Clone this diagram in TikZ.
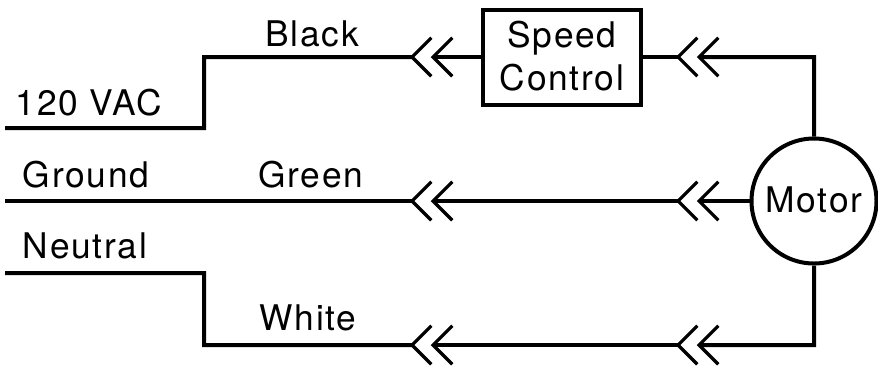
\documentclass[tikz,border=0pt]{standalone}
\usepackage{fontspec}
\setmainfont[LetterSpace=5]{TeX Gyre Heros}
\tikzset{
 wire/.style={line width=3pt,line cap=butt,line join=miter},
 lbl/.style={font=\fontsize{26.5pt}{30pt}\selectfont,inner sep=0pt,anchor=base},
 chev/.pic={\draw[wire,line width=2.4pt] (14.5,-14.5) -- (0,0) -- (14.5,14.5);},
}
\begin{document}
\begin{tikzpicture}[x=1pt,y=-1pt,scale=0.75]
\useasboundingbox (0,0) rectangle (878,365);
\node[draw,line width=3pt,minimum width=158pt*0.75,minimum height=95pt*0.75,inner sep=0pt] (sc) at (562,57) {};
\node[draw,circle,line width=3pt,minimum size=125pt*0.75,inner sep=0pt] (motor) at (814,201) {};
\node[lbl] (t1) at (562,47) {Speed};
\node[lbl] (t2) at (562,90) {Control};
\node[lbl] (t3) at (814,212) {Motor};
\node[lbl] (a) at (89,115) {120 VAC};
\node[lbl] (b) at (312,46) {Black};
\node[lbl] (c) at (86,187) {Ground};
\node[lbl] (d) at (311,187) {Green};
\node[lbl] (e) at (85,258) {Neutral};
\node[lbl] (f) at (308,330) {White};
\coordinate (l1) at (5,128);
\coordinate (l2) at (5,201);
\coordinate (l3) at (5,273);
\foreach \n/\xa/\xb/\y in {a/412/433/57,b/678/699/57,c/412/433/201,d/678/699/201,e/412/433/345,f/678/699/345}{
 \coordinate (\n1) at (\xa,\y);
 \coordinate (\n2) at (\xb,\y);
 \pic at (\n1) {chev};
 \pic at (\n2) {chev};
}
\draw[wire] (l1) -| (204,57) -- (a1);
\draw[wire] (a2) -- (sc.west);
\draw[wire] (sc.east) -- (b1);
\draw[wire] (b2) -- (814,57) -- (motor.north);
\draw[wire] (l2) -- (c1);
\draw[wire] (c2) -- (d1);
\draw[wire] (d2) -- (motor.west);
\draw[wire] (l3) -- (204,273) |- (e1);
\draw[wire] (e2) -- (f1);
\draw[wire] (f2) -- (814,345) -- (motor.south);
\end{tikzpicture}
\end{document}
